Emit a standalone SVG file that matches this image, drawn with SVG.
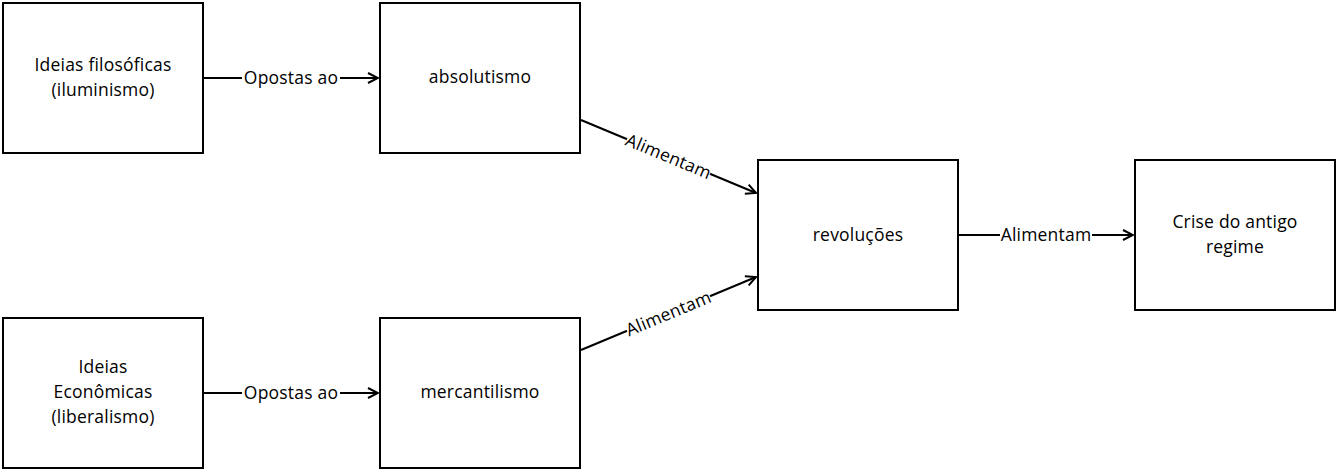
<svg xmlns="http://www.w3.org/2000/svg" width="1340" height="472" viewBox="0 0 1340 472">
<style>
.box{fill:#fff;stroke:#000;stroke-width:2}
text{font-family:"Open Sans","Noto Sans","DejaVu Sans",sans-serif;font-size:17.5px;letter-spacing:0.2px;fill:#000;text-anchor:middle}
.edge{fill:none;stroke:#000;stroke-width:2}
.lbl{fill:#fff}
</style>
<defs>
<marker id="arr" markerWidth="12" markerHeight="12" viewBox="0 0 12 12" refX="11" refY="6" orient="auto" markerUnits="userSpaceOnUse">
<path d="M1,1 L11,6 L1,11" fill="none" stroke="#000" stroke-width="2"/>
</marker>
</defs>
<rect width="1340" height="472" fill="#fff"/>
<g id="connectors">
<line class="edge" x1="203" y1="78" x2="378" y2="78" marker-end="url(#arr)"/>
<rect class="lbl" x="242" y="68" width="98" height="20"/>
<text x="291" y="84">Opostas ao</text>
<line class="edge" x1="203" y1="393" x2="378" y2="393" marker-end="url(#arr)"/>
<rect class="lbl" x="242" y="383" width="98" height="20"/>
<text x="291" y="399">Opostas ao</text>
<line class="edge" x1="581" y1="120" x2="756" y2="193" marker-end="url(#arr)"/>
<g transform="translate(668.5,156.5) rotate(22.6)">
<rect class="lbl" x="-45" y="-10" width="90" height="20"/>
<text x="0" y="6">Alimentam</text>
</g>
<line class="edge" x1="581" y1="350" x2="756" y2="277" marker-end="url(#arr)"/>
<g transform="translate(668.5,313.5) rotate(-22.6)">
<rect class="lbl" x="-45" y="-10" width="90" height="20"/>
<text x="0" y="6">Alimentam</text>
</g>
<line class="edge" x1="958" y1="235" x2="1133" y2="235" marker-end="url(#arr)"/>
<rect class="lbl" x="1000" y="225" width="92" height="20"/>
<text x="1046" y="241">Alimentam</text>
</g>
<g id="node-ideias-filosoficas">
<rect class="box" x="3" y="3" width="200" height="150"/>
<text x="103" y="71">Ideias filosóficas</text>
<text x="103" y="96">(iluminismo)</text>
</g>
<g id="node-absolutismo">
<rect class="box" x="380" y="3" width="200" height="150"/>
<text x="480" y="83">absolutismo</text>
</g>
<g id="node-revolucoes">
<rect class="box" x="758" y="160" width="200" height="150"/>
<text x="858" y="241">revoluções</text>
</g>
<g id="node-crise">
<rect class="box" x="1135" y="160" width="200" height="150"/>
<text x="1235" y="228">Crise do antigo</text>
<text x="1235" y="253">regime</text>
</g>
<g id="node-ideias-economicas">
<rect class="box" x="3" y="318" width="200" height="150"/>
<text x="103" y="373">Ideias</text>
<text x="103" y="398">Econômicas</text>
<text x="103" y="423">(liberalismo)</text>
</g>
<g id="node-mercantilismo">
<rect class="box" x="380" y="318" width="200" height="150"/>
<text x="480" y="398">mercantilismo</text>
</g>
</svg>
